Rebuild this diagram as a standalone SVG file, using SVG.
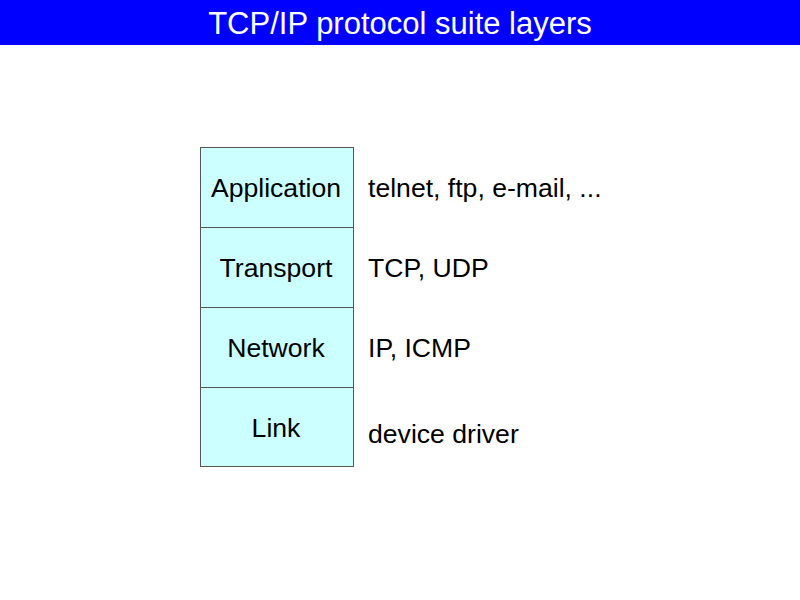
<svg xmlns="http://www.w3.org/2000/svg" width="800" height="600" viewBox="0 0 800 600">
<style>
.t{font-family:"Liberation Sans",Arial,sans-serif;font-size:26.6px;fill:#000}
.c{text-anchor:middle}
.box{fill:#ccffff;stroke:#555;stroke-width:1}
</style>
<rect x="0" y="0" width="800" height="600" fill="#fff"/>
<g id="title">
<rect x="0" y="0" width="800" height="45" fill="#0000ff"/>
<text x="400" y="34" text-anchor="middle" font-family="Liberation Sans,Arial,sans-serif" font-size="31" fill="#fff">TCP/IP protocol suite layers</text>
</g>
<g id="application"><rect class="box" x="200.5" y="147.5" width="153" height="80"/><text class="t c" x="276" y="197">Application</text></g>
<g id="transport"><rect class="box" x="200.5" y="227.5" width="153" height="80"/><text class="t c" x="276" y="277">Transport</text></g>
<g id="network"><rect class="box" x="200.5" y="307.5" width="153" height="80"/><text class="t c" x="276" y="357">Network</text></g>
<g id="link"><rect class="box" x="200.5" y="387.5" width="153" height="79"/><text class="t c" x="276" y="437">Link</text></g>
<g id="protocols">
<text class="t" x="368" y="197">telnet, ftp, e-mail, ...</text>
<text class="t" x="368" y="277">TCP, UDP</text>
<text class="t" x="368" y="357">IP, ICMP</text>
<text class="t" x="368" y="443">device driver</text>
</g>
<g id="connectors"></g>
</svg>
